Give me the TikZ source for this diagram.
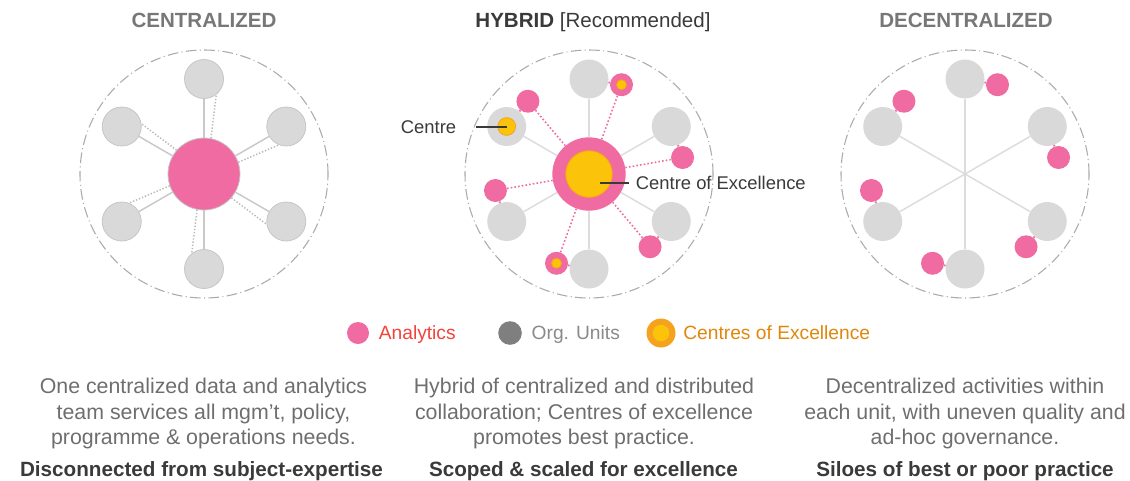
\documentclass[tikz,border=0pt]{standalone}
\usepackage{fontspec}
\setmainfont{Liberation Sans}
\usetikzlibrary{positioning}

\definecolor{anpink}{HTML}{EF6BA1}
\definecolor{unitgrey}{HTML}{D9D9D9}
\definecolor{unitedge}{HTML}{C6C6C6}
\definecolor{spokegrey}{HTML}{C9C9C9}
\definecolor{dotgrey}{HTML}{B8B8B8}
\definecolor{lightgrey}{HTML}{DCDCDC}
\definecolor{ringgrey}{HTML}{ABABAB}
\definecolor{coeyellow}{HTML}{FCC30B}
\definecolor{coeorange}{HTML}{F5A21F}
\definecolor{titlegrey}{HTML}{777777}
\definecolor{bodygrey}{HTML}{6E6E6E}
\definecolor{darktext}{HTML}{3A3A3A}
\definecolor{legred}{HTML}{F2433B}
\definecolor{leggrey}{HTML}{8A8A8A}
\definecolor{legorange}{HTML}{E0870B}
\definecolor{legdark}{HTML}{7F7F7F}

\begin{document}
\begin{tikzpicture}[x=0.75pt,y=0.75pt,
  ring/.style={ringgrey,line width=0.8pt,dash pattern=on 8pt off 2.5pt on 0.8pt off 2.5pt},
  unit/.style={circle,fill=unitgrey,minimum size=29.25pt,inner sep=0pt},
  hub/.style={circle,fill=anpink,minimum size=54pt,inner sep=0pt},
  analytics/.style={circle,fill=anpink,minimum size=17.25pt,inner sep=0pt},
  coe/.style={circle,fill=coeyellow,draw=coeorange,line width=0.6pt,inner sep=0pt},
  spoke/.style={spokegrey,line width=1.1pt},
  lightspoke/.style={lightgrey,line width=1.1pt},
  dotlink/.style={dotgrey,line width=1.1pt,dash pattern=on 1pt off 1.4pt},
  pinkdots/.style={anpink,line width=1.2pt,dash pattern=on 1.2pt off 1.6pt},
  stub/.style={anpink,line width=1.5pt},
  leader/.style={darktext,line width=1.5pt},
  lbl/.style={inner sep=0pt,text=darktext,text height=9.9pt,text depth=0pt,font=\fontsize{13.8}{16}\selectfont},
  legdot/.style={circle,inner sep=0pt},
  legtext/.style={inner sep=0pt,text height=10.3pt,text depth=0pt,font=\fontsize{14.4}{17}\selectfont},
  title/.style={anchor=base,inner sep=0pt,font=\bfseries\fontsize{15.4}{18}\selectfont},
  body/.style={anchor=north,align=center,inner sep=0pt,text=bodygrey,font=\fontsize{16}{19.1}\selectfont},
  verdict/.style={anchor=base,inner sep=0pt,text=darktext,font=\bfseries\fontsize{15.5}{18}\selectfont}]
  \useasboundingbox (0,0) rectangle (1130,-480);

  %centralized
  \begin{scope}[shift={(204,-174)}]
    \draw[ring] (0,0) circle (124);
    \node[hub,draw=unitedge,line width=0.6pt] (cc) at (0,0) {};
    \foreach \a/\q [count=\i, evaluate=\a as \p using int(\a-11)] in {90/308,30/248,330/188,270/128,210/68,150/8}{
      \node[unit,draw=unitedge,line width=0.6pt] (cc-\i) at (\a:95) {};
      \draw[spoke] (cc) -- (cc-\i);
      \draw[dotlink] (cc.\p) -- (cc-\i.\q);
    }
  \end{scope}

  %hybrid
  \begin{scope}[shift={(589,-174)}]
    \draw[ring] (0,0) circle (124);
    \node[hub,minimum size=55pt] (hy) at (0,0) {};
    \foreach \a [count=\i, evaluate=\a as \b using int(\a-20)] in {90,30,330,270,210,150}{
      \node[unit] (hy-\i) at (\a:95) {};
      \node[analytics] (hy-a\i) at (\b:95) {};
      \draw[lightspoke] (hy) -- (hy-\i);
      \draw[pinkdots] (hy-a\i) -- (hy);
      \draw[stub] (hy-a\i) -- (hy-\i);
    }
    \node[coe,minimum size=35pt] (hy-coe) at (0,0) {};
    \node[coe,minimum size=13.3pt] (hy-ctr) at (hy-6) {};
    \node[coe,minimum size=7.5pt] (hy-c1) at (hy-a1) {};
    \node[coe,minimum size=7.5pt] (hy-c4) at (hy-a4) {};
  \end{scope}
  \draw[leader] (hy-ctr.center) -- ++(-31,0) coordinate (ctr-end);
  \node[lbl,left=14.5pt of ctr-end] (ctr-lbl) {Centre};
  \coordinate (coe-pt) at ([shift={(11,-9)}]hy.center);
  \draw[leader] (coe-pt) -- ++(29,0) coordinate (coe-end);
  \node[lbl,right=5pt of coe-end] (coe-lbl) {Centre of Excellence};

  %decentralized
  \begin{scope}[shift={(965,-174)}]
    \draw[ring] (0,0) circle (124);
    \coordinate (dc) at (0,0);
    \foreach \a [count=\i, evaluate=\a as \b using int(\a-20)] in {90,30,330,270,210,150}{
      \node[unit] (dc-\i) at (\a:95) {};
      \node[analytics] (dc-a\i) at (\b:95) {};
      \draw[lightspoke] (dc) -- (dc-\i);
      \draw[stub] (dc-a\i) -- (dc-\i);
    }
  \end{scope}

  %titles
  \node[title,text=titlegrey] (t-cen) at (204,-27) {CENTRALIZED};
  \node[title,text=darktext] (t-hyb) at (593,-27) {HYBRID {\mdseries [Recommended]}};
  \node[title,text=titlegrey] (t-dec) at (966,-27) {DECENTRALIZED};

  %legend
  \node[legdot,fill=anpink,minimum size=16.5pt] (lg-an) at (358,-333) {};
  \node[legtext,right=7pt of lg-an,text=legred] (lg-an-t) {Analytics};
  \node[legdot,fill=legdark,minimum size=17.7pt] (lg-ou) at (510,-333) {};
  \node[legtext,right=7pt of lg-ou,text=leggrey] (lg-ou-t) {Org. Units};
  \node[legdot,fill=coeorange,minimum size=21.75pt] (lg-ce) at (661,-333) {};
  \node[legdot,fill=coeyellow,minimum size=12.4pt] (lg-ce-in) at (lg-ce) {};
  \node[legtext,right=5.5pt of lg-ce,text=legorange] (lg-ce-t) {Centres of Excellence};

  %descriptions
  \node[body] (d-cen) at (203.5,-378) {One centralized data and analytics\\team services all mgm’t, policy,\\programme \& operations needs.};
  \node[body] (d-hyb) at (584,-378) {Hybrid of centralized and distributed\\collaboration; Centres of excellence\\promotes best practice.};
  \node[body] (d-dec) at (965,-378) {Decentralized activities within\\each unit, with uneven quality and\\ad-hoc governance.};
  \node[verdict] (v-cen) at (201.5,-476) {Disconnected from subject-expertise};
  \node[verdict] (v-hyb) at (583.5,-476) {Scoped \& scaled for excellence};
  \node[verdict] (v-dec) at (965,-476) {Siloes of best or poor practice};
\end{tikzpicture}
\end{document}
